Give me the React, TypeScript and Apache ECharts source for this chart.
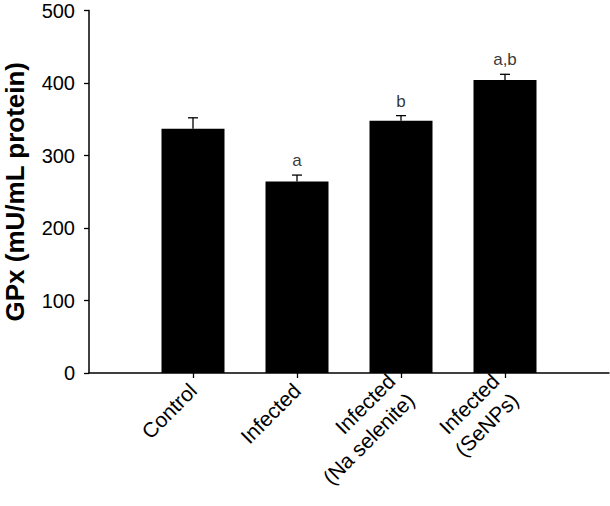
import React, { useEffect, useRef } from "react";
import * as echarts from "echarts";

// Slots 0 and 5 are empty padding positions on the axis
const categories = ["", "Control", "Infected", "Infected\n(Na selenite)", "Infected\n(SeNPs)", ""];
const groupIndex = [1, 2, 3, 4];
const means = [337, 264, 348, 404];
const errors = [15, 9, 7, 8];
const sigLetters = ["", "a", "b", "a,b"];
const yTicks = { min: 0, max: 500, interval: 100 };

const FONT = "'Liberation Sans', Arial, Helvetica, sans-serif";

export default function App() {
  const ref = useRef<HTMLDivElement>(null);
  useEffect(() => {
    if (!ref.current) return;
    const chart = echarts.init(ref.current, null, { renderer: "svg" });
    const barData = categories.map((_, i) => {
      const k = groupIndex.indexOf(i);
      return k >= 0 ? means[k] : "-";
    });
    const errData = groupIndex.map((g, k) => [g, means[k], errors[k]]);
    const letterData = groupIndex
      .map((g, k) => ({ value: [g, means[k] + errors[k]], letter: sigLetters[k] }))
      .filter((d) => d.letter !== "");
    chart.setOption({
      animation: false,
      backgroundColor: "#fff",
      grid: {
        left: 89,
        right: 1,
        top: 10.5,
        bottom: 133,
        containLabel: false,
        outerBoundsMode: "none",
      },
      xAxis: {
        type: "category",
        data: categories,
        boundaryGap: false,
        axisLine: { show: true, lineStyle: { color: "#000", width: 1.5 } },
        axisTick: {
          show: true,
          inside: false,
          length: 5,
          interval: (i: number) => i >= 1 && i <= 4,
          lineStyle: { color: "#000", width: 1.3 },
        },
        axisLabel: {
          interval: 0,
          rotate: 45,
          margin: 14,
          color: "#000",
          fontSize: 21,
          fontFamily: FONT,
          lineHeight: 27,
        },
        splitLine: { show: false },
      },
      yAxis: {
        type: "value",
        min: yTicks.min,
        max: yTicks.max,
        interval: yTicks.interval,
        name: "GPx (mU/mL protein)",
        nameLocation: "middle",
        nameGap: 61,
        nameTextStyle: {
          color: "#000",
          fontSize: 26,
          lineHeight: 26,
          fontWeight: "bold",
          fontFamily: FONT,
        },
        axisLine: { show: true, lineStyle: { color: "#000", width: 1.5 } },
        axisTick: { show: true, inside: false, length: 5, lineStyle: { color: "#000", width: 1.3 } },
        axisLabel: { color: "#000", fontSize: 20, lineHeight: 18, fontFamily: FONT, margin: 14 },
        splitLine: { show: false },
      },
      series: [
        {
          type: "bar",
          data: barData,
          barWidth: 63,
          itemStyle: { color: "#000" },
          z: 2,
        },
        {
          type: "custom",
          data: errData,
          z: 3,
          renderItem: (params: any, api: any) => {
            const x = api.value(0);
            const m = api.value(1);
            const e = api.value(2);
            const base = api.coord([x, m]);
            const top = api.coord([x, m + e]);
            const style = { stroke: "#000", lineWidth: 1.3 };
            return {
              type: "group",
              children: [
                { type: "line", shape: { x1: top[0], y1: base[1], x2: top[0], y2: top[1] }, style },
                { type: "line", shape: { x1: top[0] - 5, y1: top[1], x2: top[0] + 5, y2: top[1] }, style },
              ],
            };
          },
        },
        {
          type: "scatter",
          data: letterData.map((d) => ({ value: d.value, letter: d.letter })),
          symbolSize: 0,
          z: 4,
          label: {
            show: true,
            position: "top",
            distance: 6,
            color: "#000",
            fontSize: 17,
            fontFamily: FONT,
            formatter: (p: any) => p.data.letter,
          },
        },
      ],
    });
    return () => chart.dispose();
  }, []);
  return (
    <div
      ref={ref}
      style={{ position: "absolute", left: 0, top: 0, width: 610, height: 506 }}
    />
  );
}
